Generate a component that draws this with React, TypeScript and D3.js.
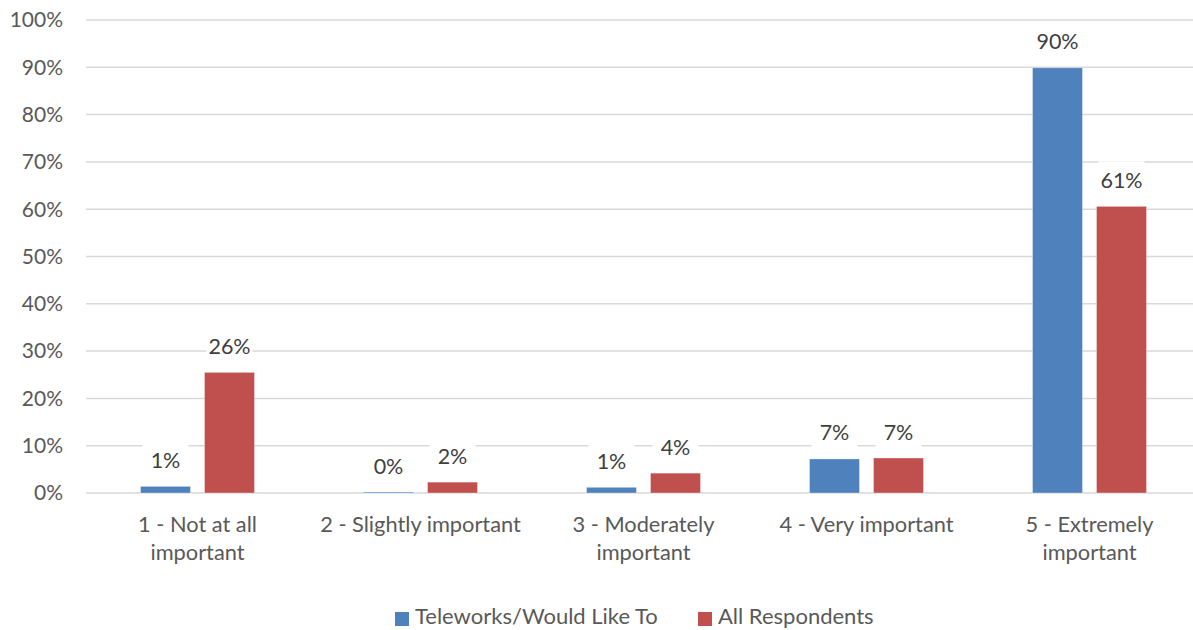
import React from "react";
import * as d3 from "d3";

const categories = ["1 - Not at all important", "2 - Slightly important", "3 - Moderately important", "4 - Very important", "5 - Extremely important"];
const categoryLines = [["1 - Not at all", "important"], ["2 - Slightly important"], ["3 - Moderately", "important"], ["4 - Very important"], ["5 - Extremely", "important"]];
const seriesNames = ["Teleworks/Would Like To", "All Respondents"];
const teleworks = [0.014, 0.002, 0.012, 0.072, 0.899];
const allRespondents = [0.255, 0.023, 0.042, 0.074, 0.606];
const yTicks = [0, 0.1, 0.2, 0.3, 0.4, 0.5, 0.6, 0.7, 0.8, 0.9, 1.0];
const colors = ["#4F81BD", "#C0504D"];

const W = 1193, H = 630;
const FONT = "Lato, 'Open Sans', sans-serif";

export default function App() {
  const y = d3.scaleLinear().domain([0, 1]).range([493, 20]);
  const x0 = d3.scaleBand<string>().domain(categories).range([86, 1201]).paddingInner(0).paddingOuter(0);
  const groupW = 114;
  const x1 = d3.scaleBand<string>().domain(seriesNames).range([0, groupW]).paddingInner(14 / 64).paddingOuter(0);
  const series = [teleworks, allRespondents];
  const fmt = d3.format(".0%");

  const labels: { cx: number; cy: number; text: string }[] = [];
  categories.forEach((c, i) => {
    series.forEach((vals, s) => {
      const bx = (x0(c) as number) + x0.bandwidth() / 2 - groupW / 2 + (x1(seriesNames[s]) as number);
      labels.push({ cx: bx + x1.bandwidth() / 2, cy: y(vals[i]) - 26, text: fmt(vals[i]) });
    });
  });

  return (
    <svg width={W} height={H} style={{ position: "absolute", left: 0, top: 0, display: "block", background: "#fff" }} fontFamily={FONT}>
      {yTicks.map((t) => (
        <g key={t}>
          <line x1={86} x2={W} y1={y(t)} y2={y(t)} stroke="#D9D9D9" strokeWidth={1.5} />
          <text x={63} y={y(t)} dy="0.35em" textAnchor="end" fontSize={21} fill="#595959">{fmt(t)}</text>
        </g>
      ))}
      {categories.map((c, i) => (
        <g key={c}>
          {series.map((vals, s) => {
            const bx = (x0(c) as number) + x0.bandwidth() / 2 - groupW / 2 + (x1(seriesNames[s]) as number);
            return (
              <rect key={s} x={bx} y={y(vals[i])} width={x1.bandwidth()} height={y(0) - y(vals[i])} fill={colors[s]} stroke="#ffffff" strokeOpacity={0.35} strokeWidth={1} />
            );
          })}
          <text x={(x0(c) as number) + x0.bandwidth() / 2} y={532} textAnchor="middle" fontSize={21.8} fill="#595959">
            {categoryLines[i].map((ln, k) => (
              <tspan key={k} x={(x0(c) as number) + x0.bandwidth() / 2} dy={k === 0 ? 0 : 28}>{ln}</tspan>
            ))}
          </text>
        </g>
      ))}
      {labels.map((l, k) => (
        <g key={k}>
          <rect x={l.cx - 23} y={l.cy - 19} width={46} height={38} fill="#fff" />
          <text x={l.cx} y={l.cy} dy="0.35em" textAnchor="middle" fontSize={21.5} fill="#404040">{l.text}</text>
        </g>
      ))}
      {seriesNames.map((n, s) => {
        const lx = [395, 698][s];
        return (
          <g key={n}>
            <rect x={lx} y={612} width={14} height={14} fill={colors[s]} />
            <text x={lx + 20} y={624} fontSize={22} fill="#595959">{n}</text>
          </g>
        );
      })}
    </svg>
  );
}
